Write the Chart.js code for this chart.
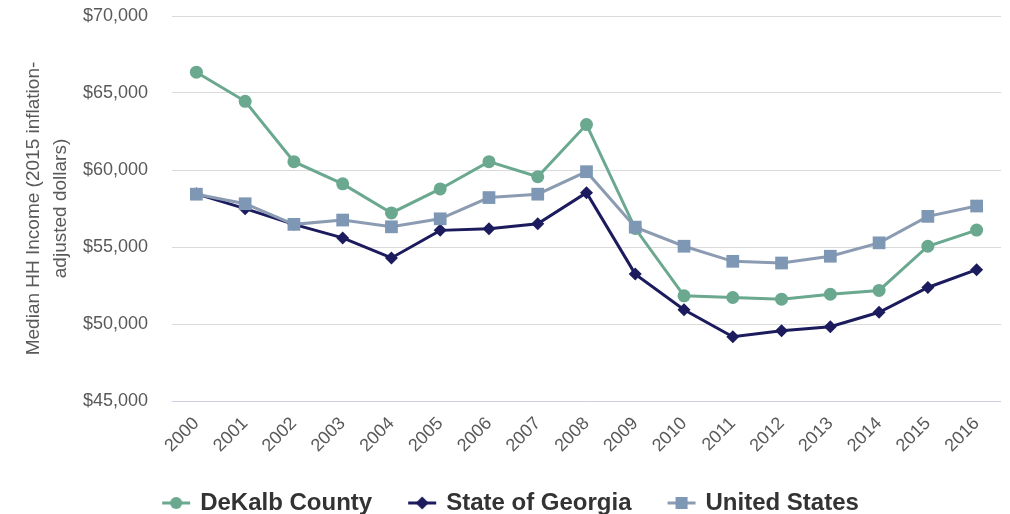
<!DOCTYPE html>
<html>
<head>
<meta charset="utf-8">
<script src="https://cdn.jsdelivr.net/npm/chart.js@4"></script>
<style>
  html, body { margin: 0; padding: 0; background: #fff; }
</style>
</head>
<body>
<canvas id="canvas" width="1010" height="514"></canvas>
<script>
// Median household income, 2000-2016 (2015 inflation-adjusted dollars)
var years = ['2000','2001','2002','2003','2004','2005','2006','2007','2008',
             '2009','2010','2011','2012','2013','2014','2015','2016'];
var dekalb  = [66350, 64460, 60540, 59100, 57210, 58770, 60540, 59560, 62950,
               56200, 51830, 51720, 51610, 51930, 52180, 55050, 56100];
var georgia = [58450, 57490, 56470, 55590, 54290, 56080, 56180, 56510, 58530,
               53240, 50920, 49170, 49560, 49820, 50760, 52370, 53530];
var usa     = [58430, 57810, 56470, 56750, 56310, 56830, 58210, 58430, 59890,
               56290, 55050, 54070, 53960, 54400, 55270, 56990, 57660];
var yMin = 45000, yMax = 70000, yStep = 5000;

var green = '#6aa88f', navy = '#1b1b5e', steel = '#7e97b4';

// legend icon: line with marker, transparent space on the left
function legendIcon(color, lineColor, style, r) {
  var c = document.createElement('canvas');
  c.width = 68; c.height = 20;
  var g = c.getContext('2d');
  g.strokeStyle = lineColor; g.lineWidth = 3;
  g.beginPath(); g.moveTo(38, 10); g.lineTo(66, 10); g.stroke();
  g.fillStyle = color;
  g.beginPath();
  if (style == 'circle') g.arc(52, 10, r, 0, Math.PI * 2);
  else if (style == 'rect') g.rect(52 - r, 10 - r, r * 2, r * 2);
  else { g.moveTo(52, 10 - r); g.lineTo(52 + r, 10); g.lineTo(52, 10 + r); g.lineTo(52 - r, 10); g.closePath(); }
  g.fill();
  return c;
}

var icons = [
  legendIcon(green, green, 'circle', 6),
  legendIcon(navy, navy, 'diamond', 6.5),
  legendIcon(steel, '#8a9bb2', 'rect', 6)
];

var ctx = document.getElementById('canvas').getContext('2d');
var chart = new Chart(ctx, {
  type: 'line',
  data: {
    labels: years,
    datasets: [
      {
        label: 'DeKalb County',
        data: dekalb,
        borderColor: green,
        backgroundColor: green,
        borderWidth: 3,
        pointStyle: 'circle',
        pointRadius: 6.5,
        pointBorderWidth: 0,
        order: 1
      },
      {
        label: 'State of Georgia',
        data: georgia,
        borderColor: navy,
        backgroundColor: navy,
        borderWidth: 3,
        pointStyle: 'rectRot',
        pointRadius: 6.5,
        pointBorderWidth: 0,
        order: 2
      },
      {
        label: 'United States',
        data: usa,
        borderColor: '#8a9bb2',
        backgroundColor: steel,
        borderWidth: 3,
        pointStyle: 'rect',
        pointRadius: 9,
        pointBorderWidth: 0,
        order: 0
      }
    ]
  },
  options: {
    responsive: false,
    animation: false,
    layout: { padding: { top: 16, right: 7, bottom: -11, left: -16 } },
    plugins: {
      tooltip: { enabled: false },
      legend: {
        position: 'bottom',
        labels: {
          usePointStyle: true,
          pointStyleWidth: 60,
          padding: 2,
          color: '#333333',
          font: { family: 'Liberation Sans, Arial, sans-serif', size: 24, weight: 'bold' },
          generateLabels: function(chart) {
            return chart.data.datasets.map(function(ds, i) {
              return {
                text: ds.label,
                pointStyle: icons[i],
                fillStyle: ds.backgroundColor,
                strokeStyle: ds.borderColor,
                lineWidth: 0,
                hidden: false,
                datasetIndex: i,
                fontColor: '#333333'
              };
            });
          }
        }
      }
    },
    scales: {
      x: {
        offset: true,
        grid: { display: false },
        border: { display: false },
        ticks: {
          autoSkip: false,
          minRotation: 45,
          maxRotation: 45,
          padding: 4,
          color: '#595959',
          font: { family: 'Liberation Sans, Arial, sans-serif', size: 18 }
        },
        afterFit: function(scale) { scale.height = 88; }
      },
      y: {
        min: yMin,
        max: yMax,
        border: { display: false },
        grid: {
          drawTicks: true,
          tickLength: 22,
          tickColor: 'rgba(0,0,0,0)',
          lineWidth: 1,
          color: function(c) { return c.tick && c.tick.value === yMin ? '#cdcde6' : '#dadada'; }
        },
        ticks: {
          stepSize: yStep,
          padding: 2,
          color: '#595959',
          font: { family: 'Liberation Sans, Arial, sans-serif', size: 18 },
          callback: function(v) { return '$' + v.toLocaleString('en-US'); }
        },
        title: {
          display: true,
          text: ['Median HH Income (2015 inflation-', 'adjusted dollars)'],
          color: '#595959',
          padding: { top: 36, bottom: 0 },
          font: { family: 'Liberation Sans, Arial, sans-serif', size: 19, lineHeight: 1.42 }
        },
        afterFit: function(scale) { scale.width = 188; }
      }
    }
  }
});
</script>
</body>
</html>
